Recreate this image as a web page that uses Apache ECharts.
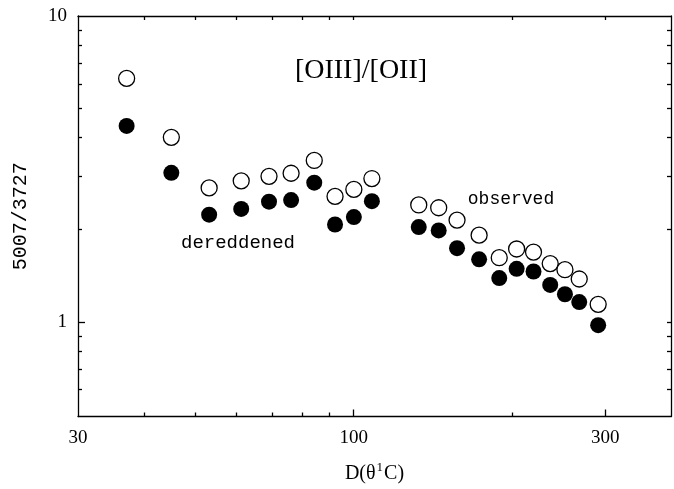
<!DOCTYPE html>
<html>
<head>
<meta charset="utf-8">
<script src="https://cdn.jsdelivr.net/npm/echarts@6/dist/echarts.min.js"></script>
<style>html,body{margin:0;padding:0;background:#fff}#c{width:674px;height:489px}</style>
</head>
<body>
<div id="c"></div>
<script>
// Distance D (arcsec) of each aperture
const distance = [37.1, 45.1, 53.2, 61.2, 69.1, 76.1, 84.2, 92.2, 100.1, 108.3,
  132.9, 145.0, 157.1, 173.0, 188.9, 203.8, 219.4, 236.0, 251.7, 267.9, 291.0];
// [OIII]5007/[OII]3727 observed (open circles)
const observed = [6.25, 4.01, 2.74, 2.89, 2.99, 3.06, 3.37, 2.57, 2.71, 2.94,
  2.41, 2.36, 2.15, 1.92, 1.62, 1.73, 1.69, 1.55, 1.48, 1.38, 1.14];
// dereddened (filled circles)
const dereddened = [4.37, 3.07, 2.24, 2.34, 2.47, 2.50, 2.85, 2.08, 2.20, 2.48,
  2.04, 1.99, 1.74, 1.60, 1.39, 1.49, 1.46, 1.32, 1.23, 1.16, 0.975];

const xMajorTicks = [100, 300];
const xLabels = [30, 100, 300];
const xMinorTicks = [40, 50, 60, 70, 80, 90, 200];
const yMajorTicks = [1];
const yLabels = [1, 10];
const yMinorTicks = [0.6, 0.7, 0.8, 0.9, 2, 3, 4, 5, 6, 7, 8, 9];

const X_MIN = 30, X_MAX = 400, Y_MIN = 0.49, Y_MAX = 10;

const chart = echarts.init(document.getElementById('c'), null, {renderer: 'canvas'});
const lineStyle = {color: '#000', width: 1.3};
const labelFont = {color: '#000', fontFamily: 'Liberation Serif', fontSize: 19};

function baseX(extra) {
  return Object.assign({
    type: 'log', logBase: 10, min: X_MIN, max: X_MAX, gridIndex: 0,
    splitLine: {show: false}, minorTick: {show: false}, minorSplitLine: {show: false},
    axisLine: {show: false}, axisLabel: {show: false}, axisTick: {show: false}
  }, extra);
}
function baseY(extra) {
  return Object.assign({
    type: 'log', logBase: 10, min: Y_MIN, max: Y_MAX, gridIndex: 0,
    splitLine: {show: false}, minorTick: {show: false}, minorSplitLine: {show: false},
    axisLine: {show: false}, axisLabel: {show: false}, axisTick: {show: false}
  }, extra);
}

const option = {
  animation: false,
  backgroundColor: '#fff',
  grid: {left: 78, right: 3, top: 16, bottom: 69, containLabel: false},
  xAxis: [
    baseX({
      position: 'bottom',
      axisLine: {show: true, onZero: false, lineStyle: lineStyle},
      axisTick: {show: true, inside: true, length: 7, lineStyle: lineStyle, customValues: xMajorTicks},
      axisLabel: Object.assign({show: true, margin: 12, customValues: xLabels,
        formatter: v => String(Math.round(v))}, labelFont),
      name: 'D(θ{s|1}C)',
      nameLocation: 'middle',
      nameGap: 45,
      nameTextStyle: {color: '#000', fontFamily: 'Liberation Serif', fontSize: 20,
        rich: {s: {fontFamily: 'Liberation Serif', fontSize: 13, verticalAlign: 'top', padding: [0, 1, 12, 1]}}}
    }),
    baseX({
      position: 'bottom',
      axisTick: {show: true, inside: true, length: 4, lineStyle: lineStyle, customValues: xMinorTicks}
    }),
    baseX({
      position: 'top',
      axisLine: {show: true, onZero: false, lineStyle: lineStyle},
      axisTick: {show: true, inside: true, length: 4, lineStyle: lineStyle,
        customValues: xMinorTicks.concat(xMajorTicks)}
    })
  ],
  yAxis: [
    baseY({
      position: 'left',
      axisLine: {show: true, onZero: false, lineStyle: lineStyle},
      axisTick: {show: true, inside: true, length: 7, lineStyle: lineStyle, customValues: yMajorTicks},
      axisLabel: Object.assign({show: true, margin: 11, customValues: yLabels,
        formatter: v => String(Math.round(v))}, labelFont),
      name: '5007/3727',
      nameLocation: 'middle',
      nameRotate: 90,
      nameGap: 47,
      nameTextStyle: {color: '#000', fontFamily: 'Liberation Mono', fontSize: 20}
    }),
    baseY({
      position: 'left',
      axisTick: {show: true, inside: true, length: 4, lineStyle: lineStyle, customValues: yMinorTicks}
    }),
    baseY({
      position: 'right',
      axisLine: {show: true, onZero: false, lineStyle: lineStyle},
      axisTick: {show: true, inside: true, length: 4, lineStyle: lineStyle,
        customValues: yMinorTicks.concat(yMajorTicks)}
    })
  ],
  graphic: [
    {type: 'text', x: 361, y: 71, style: {text: '[OIII]/[OII]', fill: '#000',
      font: '28px "Liberation Serif"', textAlign: 'center', textVerticalAlign: 'middle'}},
    {type: 'text', x: 238, y: 243, style: {text: 'dereddened', fill: '#000',
      font: '19px "Liberation Mono"', textAlign: 'center', textVerticalAlign: 'middle'}},
    {type: 'text', x: 511, y: 199, style: {text: 'observed', fill: '#000',
      font: '18px "Liberation Mono"', textAlign: 'center', textVerticalAlign: 'middle'}}
  ],
  series: [
    {
      name: 'observed', type: 'scatter', xAxisIndex: 0, yAxisIndex: 0,
      symbol: 'circle', symbolSize: 16,
      itemStyle: {color: '#fff', borderColor: '#000', borderWidth: 1.3, opacity: 1},
      emphasis: {disabled: true},
      data: distance.map((d, i) => [d, observed[i]])
    },
    {
      name: 'dereddened', type: 'scatter', xAxisIndex: 0, yAxisIndex: 0,
      symbol: 'circle', symbolSize: 16,
      itemStyle: {color: '#000', opacity: 1},
      emphasis: {disabled: true},
      data: distance.map((d, i) => [d, dereddened[i]])
    }
  ]
};
chart.setOption(option);
</script>
</body>
</html>
